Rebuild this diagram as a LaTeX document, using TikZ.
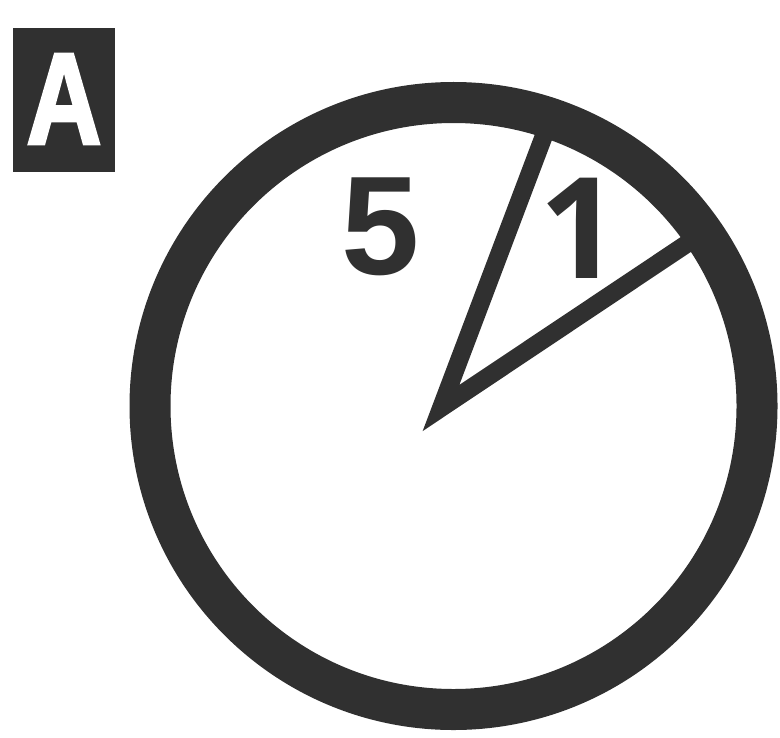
\documentclass[tikz,border=0pt]{standalone}
\usepackage{fontspec}
\setmainfont{Liberation Sans}
\newfontfamily\heavyfont[BoldFeatures={FakeBold=2.5}]{Liberation Sans}
\newfontfamily\onefont{Open Sans}
\definecolor{ink}{HTML}{303030}
\tikzset{
  digit/.style={inner sep=0pt, text=ink, font=\fontsize{80}{80}\selectfont\bfseries},
  rim/.style={draw=ink, line width=0.82cm},
  spoke/.style={draw=ink, line width=0.36cm, line join=miter}
}
\begin{document}
\begin{tikzpicture}
    \useasboundingbox (0,0) rectangle (15.6,14.74);

    % Label box top left
    \node[fill=ink, minimum width=2.04cm, minimum height=2.88cm, inner sep=0pt] (tag) at (1.28,12.74) {};
    \node[inner sep=0pt, text=white, font=\fontsize{74}{74}\selectfont\heavyfont\bfseries, xscale=0.8] (letter) at (1.28,12.76) {A};

    % Wedge from the centre to the rim
    \coordinate (tip) at (8.82,6.58);
    \coordinate (rimA) at (10.96,12.24);
    \coordinate (rimB) at (14.00,10.04);
    \draw[spoke] (rimA) -- (tip) -- (rimB);

    % Dial ring
    \coordinate (hub) at (9.07,6.62);
    \draw[rim] (hub) circle (6.07);

    % Numbers
    \node[digit] (five) at (7.62,10.20) {5};
    \node[digit, font=\fontsize{80}{80}\selectfont\onefont\bfseries] (one) at (11.60,10.18) {1};
\end{tikzpicture}
\end{document}
